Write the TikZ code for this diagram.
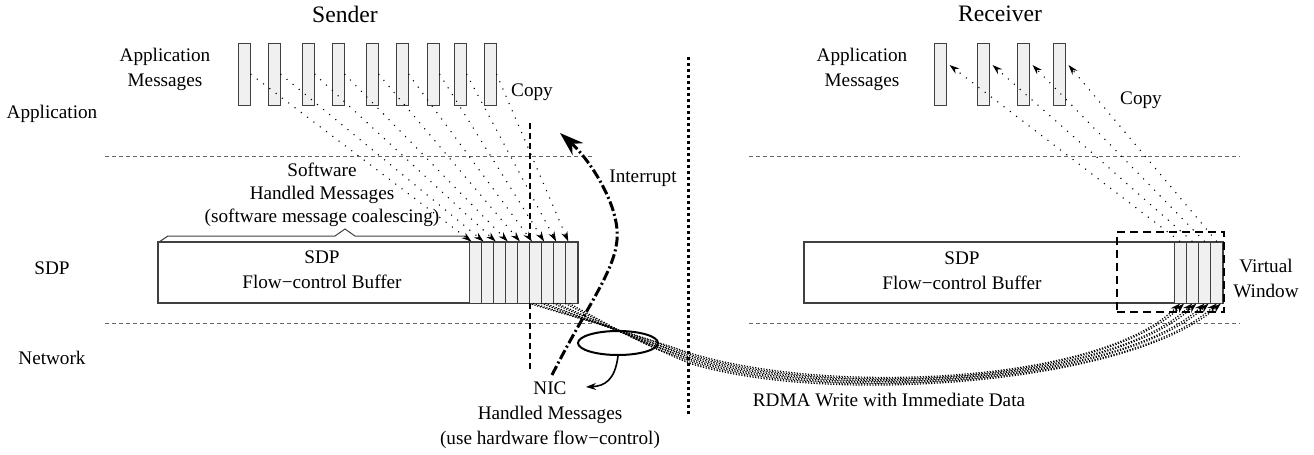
\documentclass[tikz,border=0pt]{standalone}
\usepackage{fontspec}
\setmainfont{Liberation Serif}
\usetikzlibrary{arrows.meta,shapes.geometric}

\tikzset{
	msg/.style={draw=black!75,fill=gray!12,line width=0.5pt,inner sep=0pt,minimum width=6pt,minimum height=31pt},
	cell/.style={draw=black!75,fill=gray!12,line width=0.5pt,inner sep=0pt,minimum width=6.05pt,minimum height=30.5pt},
	buffer/.style={draw=black!75,line width=0.6pt,inner sep=0pt,minimum height=30.5pt},
	lbl/.style={inner sep=0pt,align=center,font=\fontsize{9.6}{12.5}\selectfont},
	title/.style={inner sep=0pt,font=\fontsize{11.8}{14}\selectfont},
	layer/.style={draw=black!60,line width=0.5pt,dash pattern=on 2pt off 1.5pt},
	copyarrow/.style={line width=0.55pt,dash pattern=on 0.55pt off 3.4pt,-{Stealth[length=5pt,width=3.2pt]}},
	rdma/.style={line width=0.6pt,dash pattern=on 0.6pt off 0.8pt,-{Stealth[length=5pt,width=3.2pt]}},
	interrupt/.style={line width=1.5pt,dash pattern=on 5pt off 1.5pt on 1pt off 1.5pt,-{Stealth[length=12pt,width=8pt]}},
}

\begin{document}
\begin{tikzpicture}[x=0.5pt,y=-0.5pt]
		\useasboundingbox (0,0) rectangle (1314,455);
		%couches : lignes pointillees
		\draw[layer] (105,156) -- (592,156);
		\draw[layer] (105,323) -- (592,323);
		\draw[layer] (749,156) -- (1240,156);
		\draw[layer] (749,323) -- (1240,323);
		\draw[line width=1.5pt,dash pattern=on 1.5pt off 1.5pt] (688,57) -- (688,415);
		\draw[line width=1pt,dash pattern=on 3pt off 2pt] (530,123) -- (530,370);

		%textes
		\node (tsender) at(345,14) [title] {Sender};
		\node (trecv) at(1000,14) [title] {Receiver};
		\node (lapp) at(52,114) [lbl] {Application};
		\node (lsdp) at(52,268) [lbl] {SDP};
		\node (lnet) at(52,358) [lbl] {Network};
		\node (samlbl) at(165,69) [lbl] {Application\\Messages};
		\node (ramlbl) at(862,69) [lbl] {Application\\Messages};
		\node (scopy) at(532,92) [lbl] {Copy};
		\node (rcopy) at(1141,100) [lbl] {Copy};
		\node (swlbl) at(322,195) [lbl,font=\fontsize{9.6}{11.5}\selectfont] {Software\\Handled Messages\\(software message coalescing)};
		\node (vwlbl) at(1266,278) [lbl] {Virtual\\Window};
		\node (intlbl) at(643,178) [lbl] {Interrupt};
		\node (niclbl) at(550,415) [lbl] {NIC\\Handled Messages\\(use hardware flow−control)};
		\node (rdmalbl) at(889,400) [lbl] {RDMA Write with Immediate Data};

		%emetteur
		\foreach \x [count=\i] in {244,274,308,338,372,402,433,460,490}
			\node (smsg\i) at(\x,74) [msg] {};
		\node (sbuf) at(368,272.5) [buffer,minimum width=210pt] {};
		\node (sbuftxt) at(322,270) [lbl] {SDP\\Flow−control Buffer};
		\foreach \i in {1,...,9}
			\node (scell\i) at({469+12.1*(\i-0.5)},272.5) [cell] {};
		\draw[black!75,line width=0.5pt] (159,242) -- (168,236) -- (335,236) -- (345,229) -- (355,236) -- (467,236) -- (470,242);
		\foreach \i in {1,...,9}
			\path (smsg\i.east) edge[copyarrow] ([xshift=1.5pt]scell\i.north west);

		%recepteur
		\foreach \x [count=\i] in {940,983,1023,1059}
			\node (rmsg\i) at(\x,74) [msg] {};
		\node (rbuf) at(1013.5,272.5) [buffer,minimum width=209.5pt] {};
		\node (rbuftxt) at(962,271) [lbl] {SDP\\Flow−control Buffer};
		\foreach \i in {1,...,4}
			\node (rcell\i) at({1174+12.25*(\i-0.5)},272.5) [cell] {};
		\node (vwin) at(1170.5,272) [draw,line width=1pt,dash pattern=on 4pt off 2.5pt,minimum width=53.5pt,minimum height=40pt,inner sep=0pt] {};
		\foreach \i in {1,...,4}
			\path (rcell\i.north) edge[copyarrow] ([xshift=1.5pt,yshift=4.5pt]rmsg\i.east);

		%carte reseau et RDMA
		\node (nic) at(618,343) [ellipse,draw,line width=1pt,minimum width=40pt,minimum height=12pt,inner sep=0pt] {};
		\coordinate (nicfin) at(586,387);
		\draw[line width=0.8pt,-{Stealth[length=5pt,width=3.5pt]}] (nic.south) .. controls (615,380) and (605,386) .. (nicfin);
		\foreach \i/\j in {6/1,7/2,8/3,9/4}
			\foreach \k in {0,1}
				\draw[rdma] ([xshift=\k*2pt]scell\i.south west) .. controls ({630+3*\j+2*\k},{331+3*\j+\k}) .. (690,{350+3*\j+1.5*\k}) .. controls (830,{393+3*\j+1.5*\k}) and ({1090+10*\j},{383+\k}) .. ([xshift=\k*2pt]rcell\j.south);

		%interruption
		\coordinate (intbas) at(552,375);
		\coordinate (inthaut) at(560,133);
		\draw[interrupt] (intbas) .. controls (590,300) and (620,265) .. (617,230) .. controls (615,200) and (590,160) .. (inthaut);
\end{tikzpicture}
\end{document}
